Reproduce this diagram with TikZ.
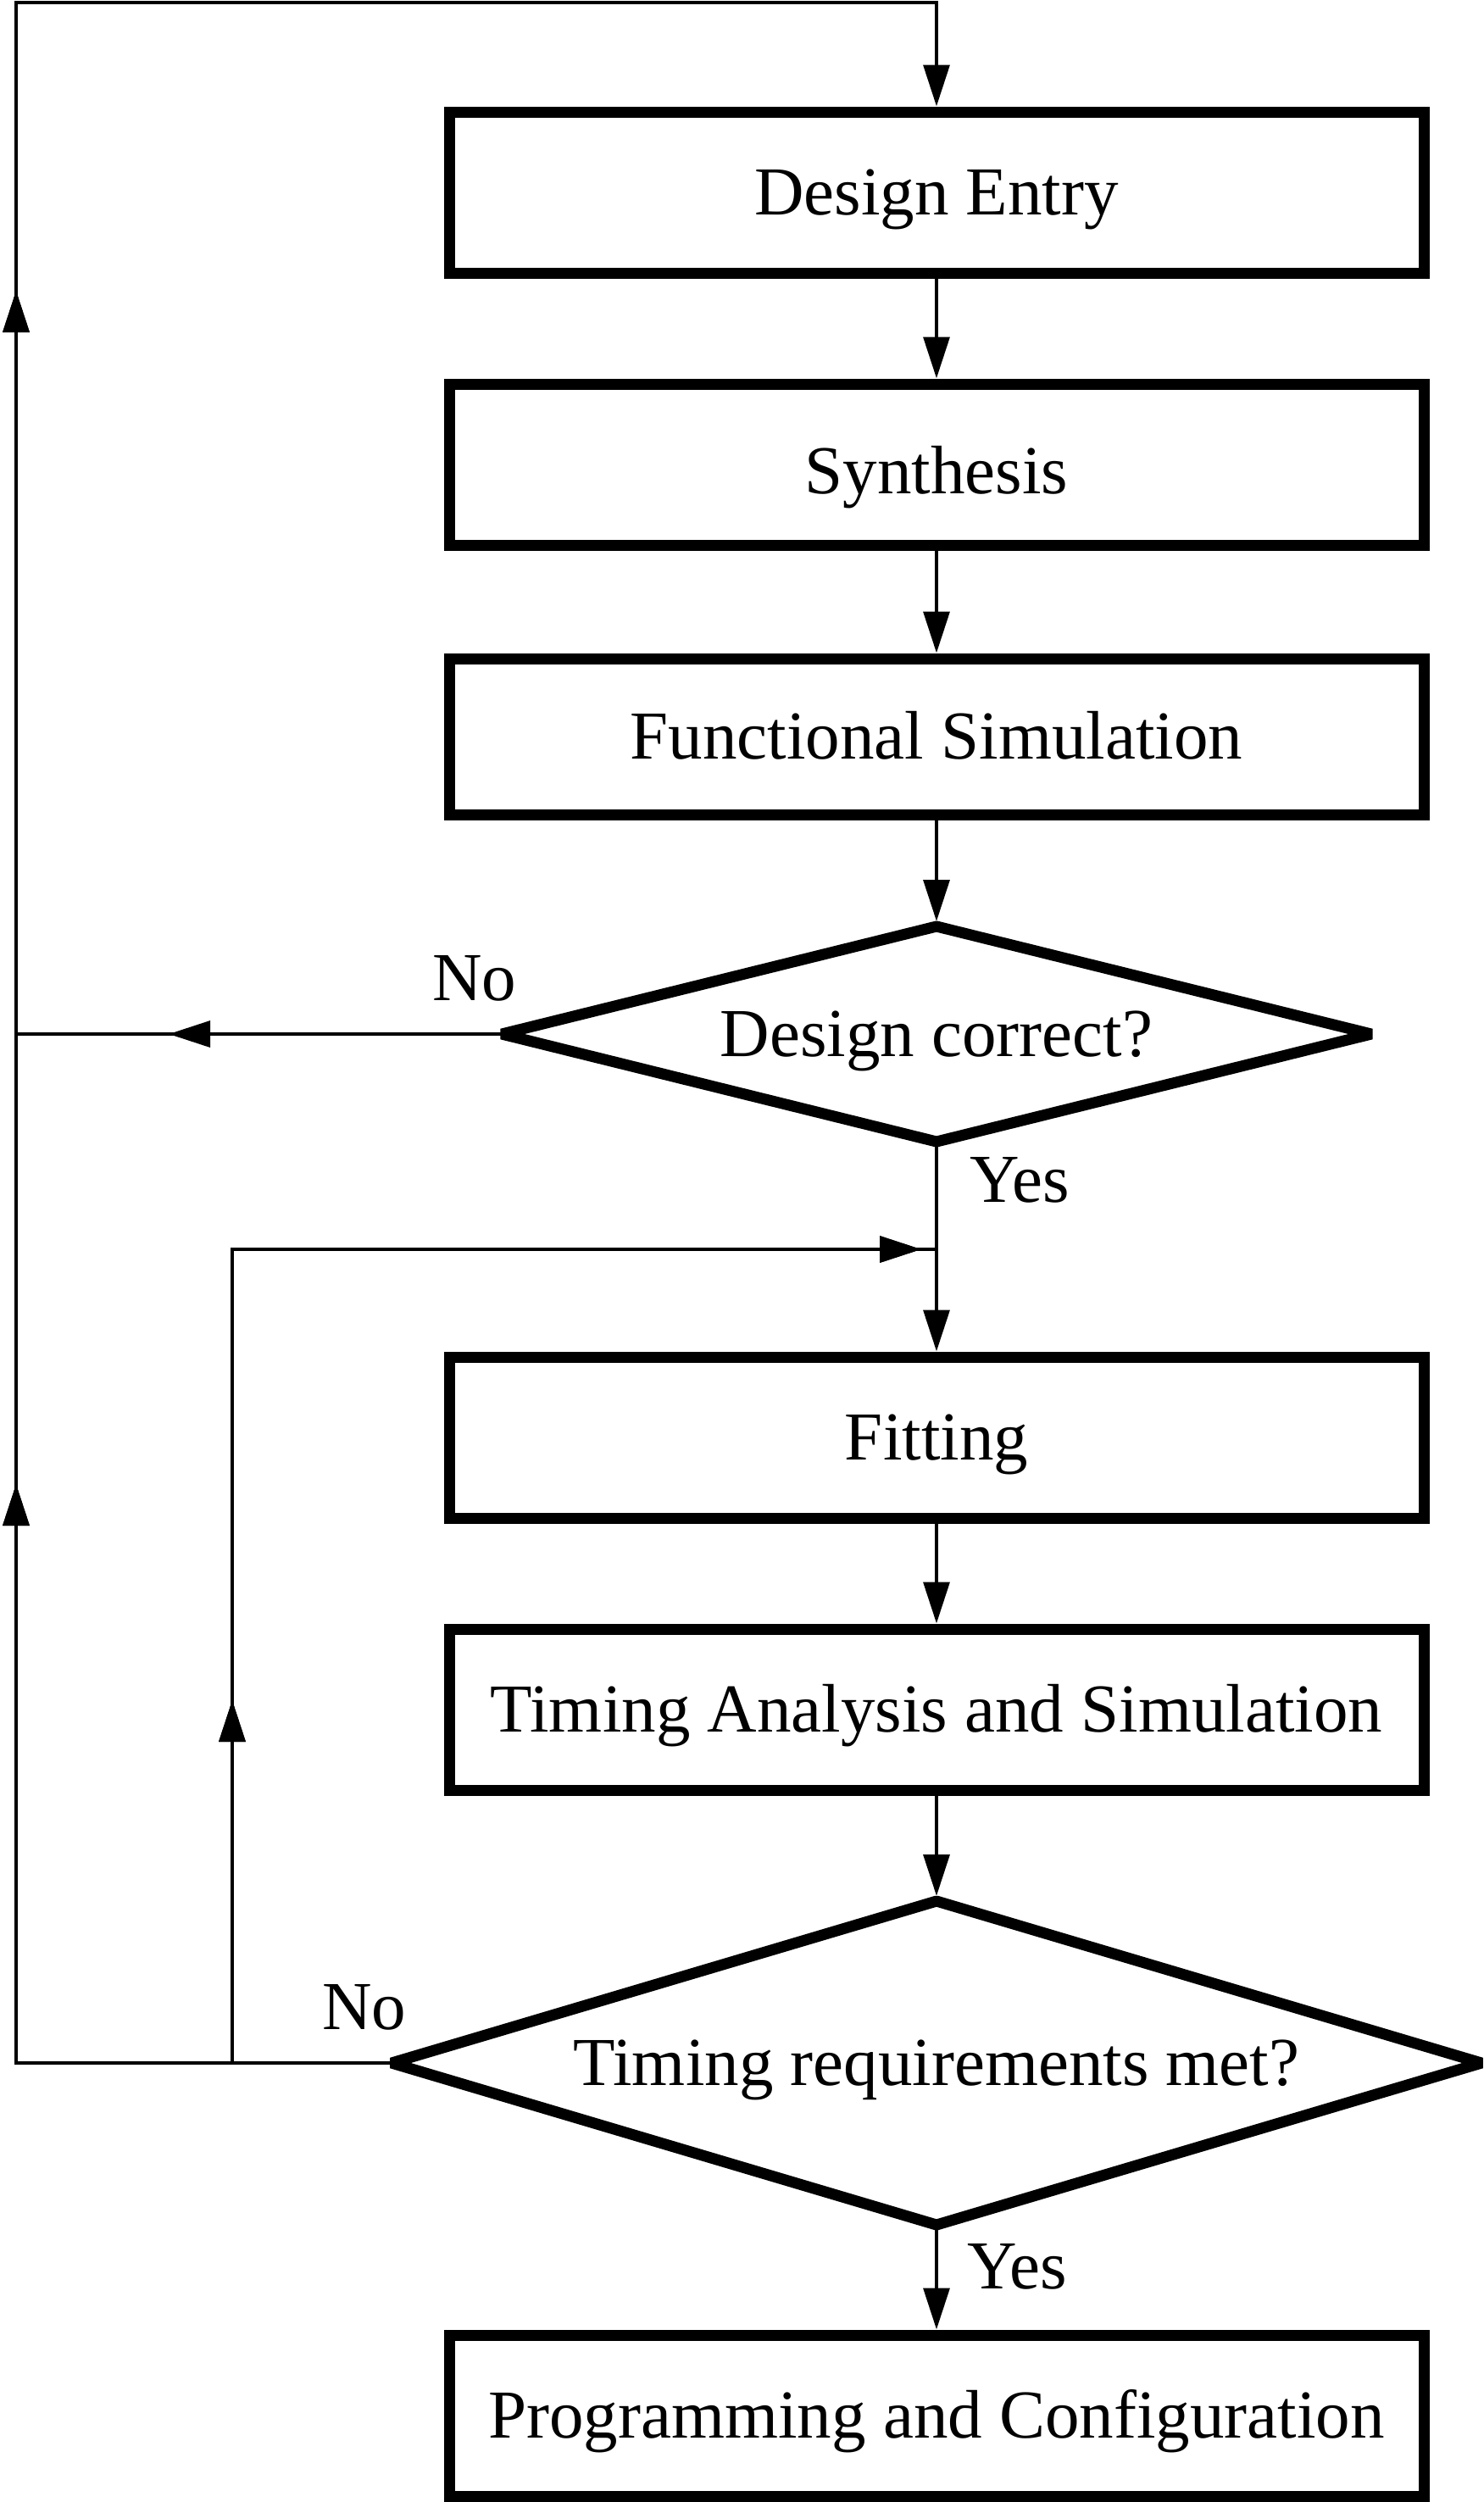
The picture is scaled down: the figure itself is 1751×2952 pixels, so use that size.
\documentclass[tikz,border=0pt]{standalone}
\usepackage{fontspec}
\setmainfont{Liberation Serif}
\usetikzlibrary{arrows.meta,shapes.geometric,decorations.markings}
\tikzset{
  flowtip/.tip={Triangle[length=24.5pt,width=15.3pt]},
  txt/.style={font=\fontsize{40.5pt}{48pt}\selectfont, text height=26.8pt, text depth=0pt},
  box/.style={draw, txt, line width=6.5pt, minimum width=575pt, minimum height=95pt, inner sep=0pt},
  decision/.style={draw, diamond, txt, line width=6.5pt, line join=bevel, inner sep=0pt, outer sep=0pt},
  lbl/.style={txt, inner sep=0pt},
  wire/.style={line width=2.3pt},
  flow/.style={wire, -{flowtip}},
  midtip/.style={postaction={decorate}, decoration={markings, mark=at position #1 with {\arrow{flowtip}}}},
}
\begin{document}
\begin{tikzpicture}[x=0.5pt, y=-0.5pt]
\useasboundingbox (0,0) rectangle (1751,2952);

% process boxes
\node[box] (de)  at (1105,227)  {Design Entry};
\node[box, text height=34.8pt] (syn) at (1105,548)  {Synthesis};
\node[box, minimum height=92pt] (fs) at (1105,869) {Functional Simulation};
\node[decision, minimum width=513pt, minimum height=127pt, aspect=4] (d1) at (1105,1220) {Design correct?};
\node[box] (fit) at (1105,1696) {Fitting};
\node[box] (ta)  at (1105,2017) {Timing Analysis and Simulation};
\node[decision, minimum width=643pt, minimum height=191pt, aspect=3.4] (d2) at (1105,2434) {Timing requirements met?};
\node[box] (pc)  at (1105,2850) {Programming and Configuration};

% labels
\node[lbl] (no1)  at (560,1154)  {No};
\node[lbl] (yes1) at (1203,1392) {Yes};
\node[lbl] (no2)  at (430,2368)  {No};
\node[lbl] (yes2) at (1200,2674) {Yes};

% helper coordinates
\coordinate (nb) at (19,1220);
\coordinate (lb) at (19,2434);
\coordinate (lt) at (19,3);
\coordinate (rt) at (1105,3);
\coordinate (ib) at (274,2434);
\coordinate (it) at (274,1474);
\coordinate (jn) at (1105,1474);

% main flow
\draw[flow] (de.south) -- (syn.north);
\draw[flow] (syn.south) -- (fs.north);
\draw[flow, shorten >=3pt] (fs.south) -- (d1.north);
\draw[flow] (d1.south) -- (fit.north);
\draw[flow] (fit.south) -- (ta.north);
\draw[flow, shorten >=3pt] (ta.south) -- (d2.north);
\draw[flow] (d2.south) -- (pc.north);

% No branch of first decision
\draw[wire, midtip=196.5pt] (d1.west) -- (nb);

% outer loop back to design entry
\draw[flow, midtip=563pt, midtip=1267pt] (d2.west) -- (lb) -- (lt) -- (rt) -- (de.north);

% inner loop back to fitting
\draw[wire, midtip=214pt, midtip=886.5pt] (ib) -- (it) -- (jn);
\end{tikzpicture}
\end{document}
